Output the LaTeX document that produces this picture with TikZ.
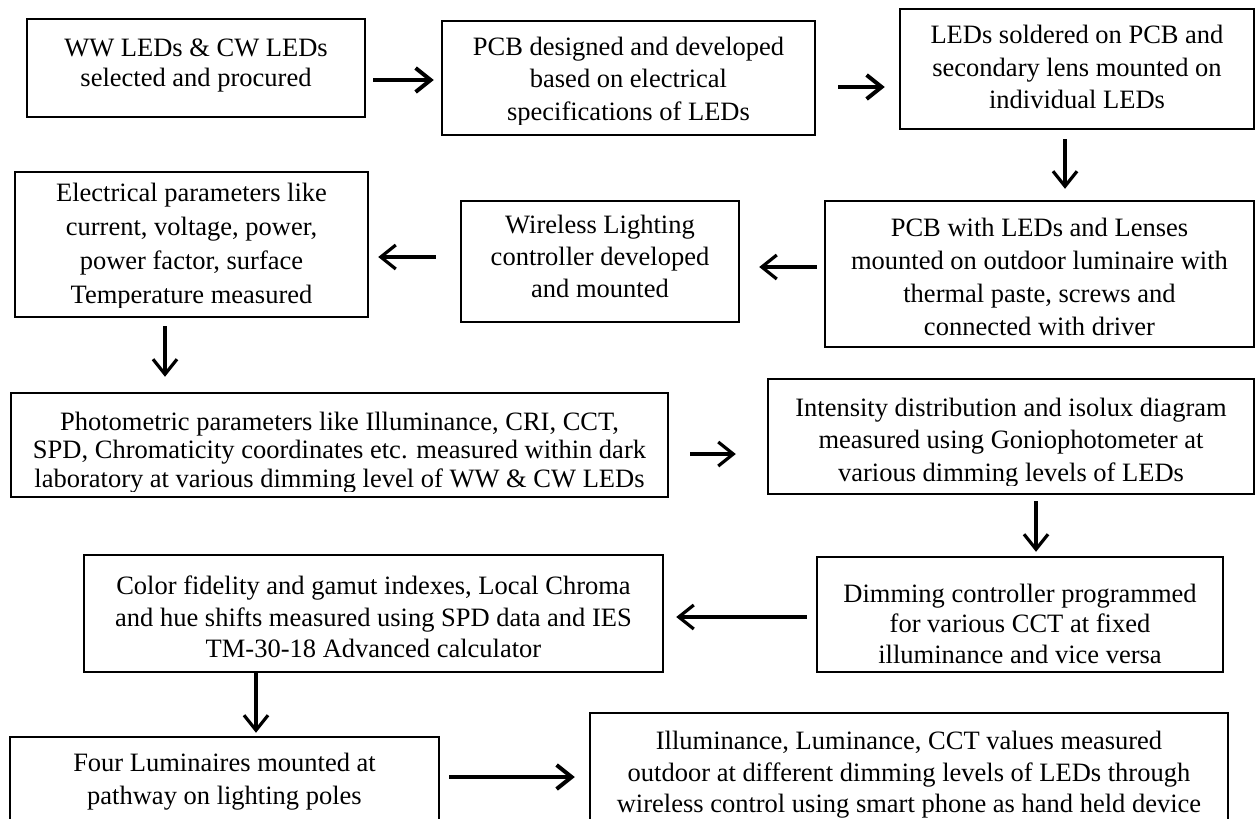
\documentclass[tikz,border=0pt]{standalone}
\usepackage{fontspec}
\setmainfont{Liberation Serif}
\usetikzlibrary{arrows.meta}
% strut that fixes the height of the first line of every caption
\newcommand\firstline{\rule{0pt}{20pt}}

\begin{document}
\begin{tikzpicture}[x=1pt,y=-1pt,
  stage/.style={draw=black, line width=2.4pt, inner sep=0pt},
  boxtext/.style={inner sep=0pt, align=center, font=\fontsize{26.5}{#1}\selectfont},
  flow/.style={line width=3.2pt, -{Straight Barb[length=15pt,width=24pt]}},
  heavy/.style={line width=4pt}
]
\useasboundingbox (0,0) rectangle (1256,819);
\clip (0,0) rectangle (1256,819);

% ---- process stages ----
\node[stage, minimum width=338pt, minimum height=98pt]  (b1)  at (196,68) {};
\node[stage, minimum width=373pt, minimum height=114pt] (b2)  at (628.5,78) {};
\node[stage, minimum width=354pt, minimum height=120pt] (b3)  at (1077,69) {};
\node[stage, minimum width=429pt, minimum height=146pt] (b4)  at (1039.5,274) {};
\node[stage, minimum width=278pt, minimum height=121pt] (b5)  at (600,261.5) {};
\node[stage, minimum width=353pt, minimum height=145pt] (b6)  at (191.5,244.5) {};
\node[stage, minimum width=657pt, minimum height=104pt] (b7)  at (339.5,445) {};
\node[stage, minimum width=486pt, minimum height=115pt] (b8)  at (1011,436.5) {};
\node[stage, minimum width=406pt, minimum height=115pt] (b9)  at (1020,614.5) {};
\node[stage, minimum width=579pt, minimum height=117pt] (b10) at (373.5,613.5) {};
\node[stage, minimum width=429pt, minimum height=103pt] (b11) at (224.5,788.5) {};
\node[stage, minimum width=638pt, minimum height=127pt] (b12) at (909,776.5) {};

% ---- captions ----
\node[boxtext=30, anchor=north] (t1) at ([yshift=-18.5pt]b1.north)
  {\firstline WW LEDs \& CW LEDs\\selected and procured};
\begin{scope}
  \clip (b2.north west) rectangle ([yshift=12pt]b2.south east);
  \node[boxtext=32.5, anchor=north] (t2) at ([yshift=-15pt]b2.north)
    {\firstline PCB designed and developed\\based on electrical\\specifications of LEDs};
\end{scope}
\node[boxtext=32.5, anchor=north] (t3) at ([yshift=-15.5pt]b3.north)
  {\firstline LEDs soldered on PCB and\\secondary lens mounted on\\individual LEDs};
\node[boxtext=33, anchor=north] (t4) at ([yshift=-16pt]b4.north)
  {\firstline PCB with LEDs and Lenses\\mounted on outdoor luminaire with\\thermal paste, screws and\\connected with driver};
\node[boxtext=32, anchor=north] (t5) at ([yshift=-13pt]b5.north)
  {\firstline Wireless Lighting\\controller developed\\and mounted};
\begin{scope}
  \clip (b6.north west) rectangle ([yshift=10.5pt]b6.south east);
  \node[boxtext=34, anchor=north] (t6) at ([yshift=-10.5pt]b6.north)
    {\firstline Electrical parameters like\\current, voltage, power,\\power factor, surface\\Temperature measured};
\end{scope}
\begin{scope}
  \clip (b7.north west) rectangle ([yshift=7pt]b7.south east);
  \node[boxtext=28.5, anchor=north] (t7) at ([yshift=-18pt]b7.north)
    {\firstline Photometric parameters like Illuminance, CRI, CCT,\\SPD, Chromaticity coordinates etc. measured within dark\\laboratory at various dimming level of WW \& CW LEDs};
\end{scope}
\begin{scope}
  \clip (b8.north west) rectangle ([yshift=10pt]b8.south east);
  \node[boxtext=32.5, anchor=north] (t8) at ([yshift=-18pt]b8.north)
    {\firstline Intensity distribution and isolux diagram\\measured using Goniophotometer at\\various dimming levels of LEDs};
\end{scope}
\node[boxtext=30.5, anchor=north] (t9) at ([yshift=-26pt]b9.north)
  {\firstline Dimming controller programmed\\for various CCT at fixed\\illuminance and vice versa};
\node[boxtext=31.7, anchor=north] (t10) at ([yshift=-20.5pt]b10.north)
  {\firstline Color fidelity and gamut indexes, Local Chroma\\and hue shifts measured using SPD data and IES\\TM-30-18 Advanced calculator};
\node[boxtext=33, anchor=north] (t11) at ([yshift=-15.5pt]b11.north)
  {\firstline Four Luminaires mounted at\\pathway on lighting poles};
\node[boxtext=31.5, anchor=north] (t12) at ([yshift=-17.5pt]b12.north)
  {\firstline Illuminance, Luminance, CCT values measured\\outdoor at different dimming levels of LEDs through\\wireless control using smart phone as hand held device};

% ---- flow arrows ----
\draw[flow, heavy, shorten <=7pt, shorten >=7pt]
  ([yshift=-12pt]b1.east) -- ([yshift=-2pt]b2.west);
\draw[flow, heavy, shorten <=22pt, shorten >=14pt]
  ([yshift=-9pt]b2.east) -- ([yshift=-18pt]b3.west);
\draw[flow, shorten <=9pt, shorten >=11pt]
  ([xshift=-12pt]b3.south) -- ([xshift=25.5pt]b4.north);
\draw[flow, shorten <=7pt, shorten >=19pt]
  ([yshift=7pt]b4.west) -- ([yshift=-5.5pt]b5.east);
\draw[flow, shorten <=24pt, shorten >=9pt]
  ([yshift=4.5pt]b5.west) -- ([yshift=-12.5pt]b6.east);
\draw[flow, shorten <=8pt, shorten >=15pt]
  ([xshift=-26.5pt]b6.south) -- ([xshift=-174.5pt]b7.north);
\draw[flow, shorten <=21pt, shorten >=31pt]
  ([yshift=-9pt]b7.east) -- ([yshift=-17.5pt]b8.west);
\draw[flow, shorten <=6pt, shorten >=4pt]
  ([xshift=25pt]b8.south) -- ([xshift=16pt]b9.north);
\draw[flow, shorten <=9pt, shorten >=12pt]
  ([yshift=-2.5pt]b9.west) -- ([yshift=-3.5pt]b10.east);
\draw[flow, shorten <=0pt, shorten >=3pt]
  ([xshift=-117.5pt]b10.south) -- ([xshift=31.5pt]b11.north);
\draw[flow, heavy, shorten <=9pt, shorten >=14pt]
  ([yshift=11.5pt]b11.east) -- ([yshift=-0.5pt]b12.west);
\end{tikzpicture}
\end{document}
